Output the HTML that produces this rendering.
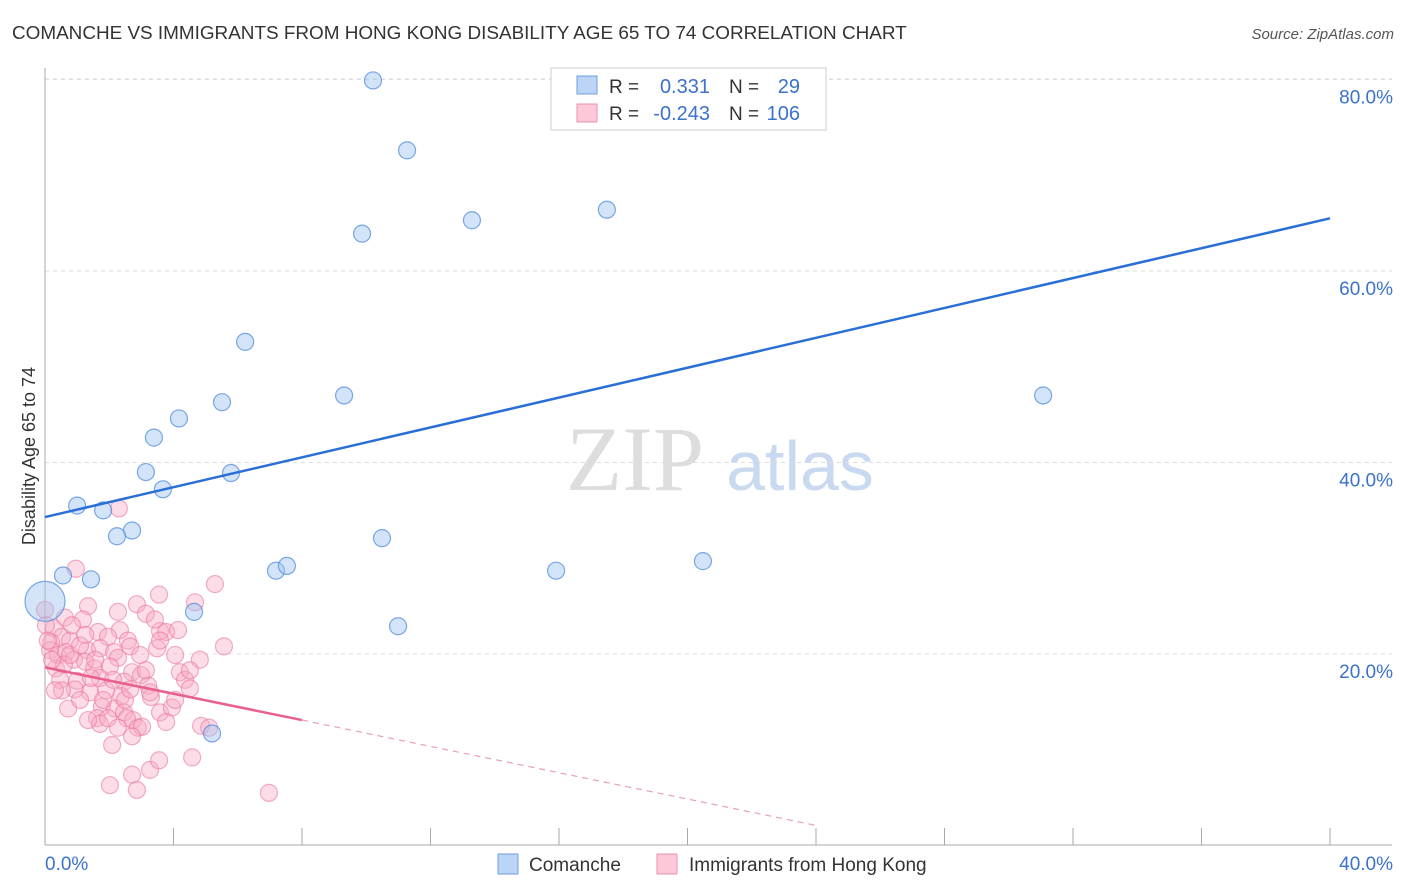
<!DOCTYPE html>
<html><head><meta charset="utf-8"><style>
body{margin:0;background:#fff;font-family:"Liberation Sans",sans-serif;}
#c{position:relative;width:1406px;height:892px;overflow:hidden}
</style></head><body>
<div id="c">
<svg id="s" width="1406" height="892" xmlns="http://www.w3.org/2000/svg">
<text x="12" y="39" font-size="18.9" fill="#333">COMANCHE VS IMMIGRANTS FROM HONG KONG DISABILITY AGE 65 TO 74 CORRELATION CHART</text>
<text x="1394" y="39" font-size="15" fill="#555" font-style="italic" text-anchor="end">Source: ZipAtlas.com</text>
<text x="35" y="456" font-size="18" fill="#333" text-anchor="middle" transform="rotate(-90 35 456)">Disability Age 65 to 74</text>
<g><text x="635" y="490" font-size="92" fill="#ddd" font-family="Liberation Serif" text-anchor="middle">ZIP</text><text x="800" y="490" font-size="70" fill="#c9d9f0" text-anchor="middle">atlas</text></g>
<g id="grid"></g><g id="axes"></g><g id="pts"></g><g id="trend"></g>
<g>
<rect x="551" y="68" width="275" height="62" fill="#fff" stroke="#ccc"/>
<rect x="577" y="76" width="20" height="18" fill="#bcd4f5" stroke="#6e9ee0"/>
<rect x="577" y="104" width="20" height="18" fill="#fbc9d8" stroke="#ee8fae"/>
<text x="609" y="93" font-size="19" fill="#333">R = </text><text x="710" y="93" font-size="20" fill="#3a72cc" text-anchor="end">0.331</text>
<text x="729" y="93" font-size="19" fill="#333">N = </text><text x="800" y="93" font-size="20" fill="#3a72cc" text-anchor="end">29</text>
<text x="609" y="120" font-size="19" fill="#333">R = </text><text x="710" y="120" font-size="20" fill="#3a72cc" text-anchor="end">-0.243</text>
<text x="729" y="120" font-size="19" fill="#333">N = </text><text x="800" y="120" font-size="20" fill="#3a72cc" text-anchor="end">106</text>
</g>
<g>
<rect x="498" y="854" width="20" height="20" fill="#bcd4f5" stroke="#6e9ee0"/>
<text x="529" y="871" font-size="19" fill="#333">Comanche</text>
<rect x="657" y="854" width="20" height="20" fill="#fbc9d8" stroke="#ee8fae"/>
<text x="689" y="871" font-size="19" fill="#333">Immigrants from Hong Kong</text>
</g>
</svg>
</div>
<script>
const yTicks=[20,40,60,80];
const yTickLabels=["20.0%","40.0%","60.0%","80.0%"];
const xTickLabels=["0.0%","40.0%"];
const blueX=[10.21,11.27,13.29,17.49,9.87,6.23,5.51,9.31,4.17,3.39,3.14,5.79,3.67,1.00,1.81,2.71,2.24,10.49,7.19,7.53,15.91,20.48,31.07,0.56,1.43,0.00,4.64,10.99,5.20];
const blueY=[79.9,72.6,65.3,66.4,63.9,52.6,46.3,47.0,44.6,42.6,39.0,38.9,37.2,35.5,35.0,32.9,32.3,32.1,28.7,29.2,28.7,29.7,47.0,28.2,27.8,25.5,24.4,22.9,11.7];
const pinkX=[2.30,0.96,3.55,5.29,1.34,2.86,4.67,3.14,1.18,2.33,0.28,0.53,1.65,0.19,0.78,1.96,2.58,3.58,3.77,4.14,5.57,2.65,3.49,4.05,1.31,1.71,2.15,0.16,0.40,0.65,0.90,1.25,2.27,0.34,0.59,1.53,2.02,2.71,2.99,4.20,0.47,1.00,1.71,2.46,3.21,4.36,4.51,0.93,1.40,2.37,1.90,3.30,0.72,1.77,2.18,2.46,2.74,1.62,3.58,3.95,1.71,1.96,2.55,2.89,3.02,2.71,4.86,5.11,2.27,3.27,2.71,3.55,2.02,2.86,4.58,6.97,0.00,0.03,0.09,0.22,0.53,1.09,1.43,0.62,0.78,1.09,1.56,1.81,2.12,2.96,3.42,4.82,3.27,2.49,1.34,2.09,4.05,3.58,0.31,0.84,1.25,3.14,2.65,3.77,2.27,4.51];
const pinkY=[35.2,28.9,26.2,27.3,25.0,25.2,25.4,24.2,23.6,22.5,22.7,21.8,22.3,21.2,21.4,21.8,21.4,22.4,22.3,22.5,20.8,20.8,20.6,19.9,20.4,20.6,20.2,20.4,19.9,20.2,19.4,19.2,19.6,18.5,18.9,18.5,18.7,18.1,17.8,18.1,17.3,17.2,17.5,17.1,16.7,17.3,16.4,16.3,16.0,15.6,16.2,15.5,14.3,14.5,14.3,13.9,13.1,13.3,13.9,14.4,12.7,13.3,13.3,12.3,12.4,11.4,12.5,12.3,12.3,7.9,7.4,8.9,6.3,5.8,9.2,5.5,24.6,23.0,21.4,19.4,16.2,15.2,17.5,23.8,19.9,20.9,19.4,15.2,17.3,19.9,23.6,19.4,16.0,15.2,13.1,10.5,15.2,21.4,16.2,23.0,22.0,18.3,16.3,12.9,24.4,18.3];
const blueTrend=[[0,34.3],[40,65.5]];
const pinkTrend=[[0,18.6],[8,13.1]];
const pinkDashEnd=24;
const X=v=>45+v*32.125, Y=v=>845.5-v*9.575;
const NS="http://www.w3.org/2000/svg";
function mk(p,t,a){const e=document.createElementNS(NS,t);for(const k in a)e.setAttribute(k,a[k]);p.appendChild(e);return e;}
const g=document.getElementById('grid'),ax=document.getElementById('axes'),pts=document.getElementById('pts'),tr=document.getElementById('trend');
yTicks.forEach((t,i)=>{
 const l=mk(g,'line',{x1:45,x2:1392,y1:Y(t),y2:Y(t),stroke:'#ddd','stroke-dasharray':'4,4'});
 
 
 const tx=mk(g,'text',{x:1393,y:Y(t)+24,'font-size':19,fill:'#3a72cc','text-anchor':'end'});
 tx.textContent=yTickLabels[i];
 
 
});
const topGrid=mk(g,'line',{x1:45,x2:1392,y1:79,y2:79,stroke:'#ddd','stroke-dasharray':'4,4'});


let a=mk(ax,'line',{x1:45,x2:45,y1:68,y2:845,stroke:'#aaa'});


a=mk(ax,'line',{x1:45,x2:1392,y1:845,y2:845,stroke:'#aaa'});


for(let i=0;i<=10;i++){const t=mk(ax,'line',{x1:X(i*4),x2:X(i*4),y1:828,y2:845,stroke:'#aaa'});
 
 }
[[0,'start',45],[40,'end',1393]].forEach((d,i)=>{const t=mk(ax,'text',{x:d[2],y:870,'font-size':19,fill:'#3a72cc','text-anchor':d[1]});t.textContent=xTickLabels[i];
 
 });
pinkX.forEach((x,i)=>{const c=mk(pts,'circle',{cx:X(x),cy:Y(pinkY[i]),r:8.5,fill:'rgba(248,170,195,0.4)',stroke:'rgba(235,120,160,0.6)','stroke-width':1.2});
 
 });
blueX.forEach((x,i)=>{const c=mk(pts,'circle',{cx:X(x),cy:Y(blueY[i]),r:(x===0?20:8.5),fill:'rgba(160,195,240,0.45)',stroke:'rgba(80,140,220,0.75)','stroke-width':1.2});
 
 });
let l=mk(tr,'line',{x1:X(blueTrend[0][0]),y1:Y(blueTrend[0][1]),x2:X(blueTrend[1][0]),y2:Y(blueTrend[1][1]),stroke:'#2a6fd6','stroke-width':2.5});


l=mk(tr,'line',{x1:X(pinkTrend[0][0]),y1:Y(pinkTrend[0][1]),x2:X(pinkTrend[1][0]),y2:Y(pinkTrend[1][1]),stroke:'#e8608c','stroke-width':2.5});


const sl=(pinkTrend[1][1]-pinkTrend[0][1])/(pinkTrend[1][0]-pinkTrend[0][0]);
l=mk(tr,'line',{x1:X(pinkTrend[1][0]),y1:Y(pinkTrend[1][1]),x2:X(pinkDashEnd),y2:Y(Math.max(0,pinkTrend[0][1]+sl*pinkDashEnd)),stroke:'#e8a0b8','stroke-width':1.2,'stroke-dasharray':'6,5'});


</script>
</body></html>
